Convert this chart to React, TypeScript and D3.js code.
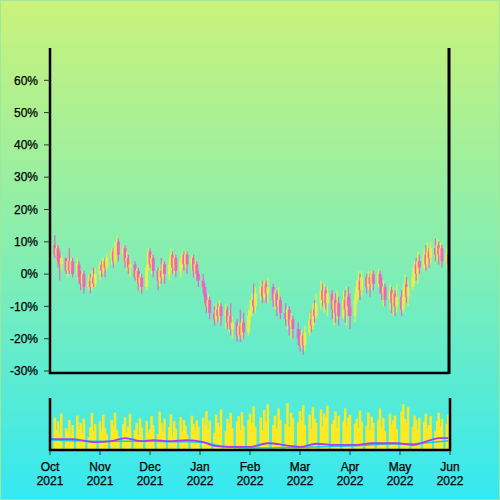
import React from "react";
import * as d3 from "d3";

// ---- Data (percent values), one tuple per trading day: [open, high, low, close]
const octOHLC = [
  [4, 9, 2, 7], [9, 12, 5, 6], [6, 9, 4, 8], [8, 9, 2, 4], [6, 7, -2, 3], [3, 6, 1, 5],
  [5, 5, 0, 1], [1, 5, -1, 4], [4, 8, 0, 1], [1, 5, 0, 4], [4, 5, -1, 0],
  [0, 5, -2, 3], [3, 4, -3, -1], [-1, 1, -5, -3], [-3, 1, -4, 0], [0, 1, -6, -4],
  [-4, 0, -5, -2], [-2, 0, -6, -4], [-4, 1, -5, -1], [-1, 2, -4, -3], [-3, 2, -4, 0],
];
const novOHLC = [
  [0, 4, -2, 3], [3, 4, -1, 1], [1, 5, 0, 4], [4, 5, -1, 2], [2, 6, 1, 5],
  [5, 8, 3, 7], [7, 8, 2, 4], [4, 10, 3, 8], [8, 12, 6, 10], [10, 11, 4, 6],
  [6, 9, 4, 8], [8, 9, 2, 4], [4, 7, 1, 5], [5, 6, 0, 2], [2, 5, -1, 3],
  [3, 4, -2, -1], [-1, 2, -3, 1], [1, 2, -5, -3], [-3, 0, -5, -1], [-1, 0, -6, -4],
  [-4, 3, -5, 2], [2, 8, 1, 7],
];
const decOHLC = [
  [7, 8, 2, 3], [3, 6, 0, 5], [5, 6, -1, 1],
  [1, 2, -5, -2], [-2, 2, -4, 1], [1, 5, -3, -1], [-1, 4, -2, 3], [3, 4, -3, 0],
  [0, 5, -2, 3], [3, 8, 1, 6], [6, 7, 0, 2], [2, 6, 0, 5], [5, 6, -1, 1],
  [1, 5, -1, 4], [4, 7, 2, 6], [6, 7, 1, 3], [3, 7, 2, 6], [6, 7, 0, 3],
  [3, 6, 1, 5], [5, 6, -1, 1], [1, 5, -1, 3], [3, 4, -2, 0], [0, 1, -4, -2],
];
const janOHLC = [
  [-2, 0, -6, -4], [-4, -3, -9, -7], [-7, -6, -12, -10], [-10, -6, -12, -8], [-8, -7, -14, -12],
  [-12, -10, -16, -14], [-14, -9, -15, -11], [-11, -9, -15, -13], [-13, -8, -15, -10], [-10, -9, -16, -13],
  [-13, -9, -17, -11], [-11, -10, -17, -15], [-15, -11, -18, -13], [-13, -9, -19, -17], [-17, -13, -20, -15],
  [-15, -14, -21, -19], [-19, -15, -20, -16], [-16, -11, -21, -19], [-19, -14, -20, -15], [-15, -12, -20, -18],
  [-18, -11, -19, -13],
];
const febOHLC = [
  [-13, -8, -16, -11], [-11, -6, -13, -8], [-8, -3, -12, -10], [-10, -4, -12, -6],
  [-6, -2, -8, -4], [-4, -2, -9, -7], [-7, -2, -8, -3], [-3, -2, -9, -6], [-6, -1, -9, -4],
  [-4, -3, -10, -8], [-8, -5, -11, -6], [-6, -5, -13, -10], [-10, -4, -12, -8], [-8, -7, -14, -12],
  [-12, -9, -16, -14], [-14, -10, -17, -11], [-11, -10, -19, -16], [-16, -12, -20, -14], [-14, -13, -20, -17],
  [-17, -15, -22, -20],
];
const marOHLC = [
  [-20, -17, -24, -22], [-22, -17, -23, -19], [-19, -18, -25, -22], [-22, -16, -24, -18],
  [-18, -12, -19, -14], [-14, -11, -18, -16], [-16, -9, -17, -11], [-11, -8, -15, -13], [-13, -6, -14, -9],
  [-9, -2, -11, -5], [-5, -3, -10, -8], [-8, -3, -12, -5], [-5, -4, -11, -9], [-9, -4, -13, -6],
  [-6, -5, -14, -11], [-11, -6, -16, -8], [-8, -6, -15, -12], [-12, -5, -14, -9], [-9, -7, -16, -13],
  [-13, -5, -14, -8], [-8, -5, -15, -11], [-11, -4, -16, -7], [-7, -4, -13, -10],
];
const aprOHLC = [
  [-10, -6, -17, -13],
  [-13, -6, -15, -8], [-8, -2, -9, -4], [-4, 1, -7, -2], [-2, 0, -8, -5], [-5, 1, -7, -1],
  [-1, 0, -6, -4], [-4, 1, -5, -1], [-1, 0, -7, -3], [-3, 1, -5, 0], [0, 1, -5, -3],
  [-3, 2, -4, 0], [0, 1, -6, -3], [-3, -1, -8, -6], [-6, -2, -10, -4], [-4, -3, -10, -8],
  [-8, -3, -11, -5], [-5, -4, -12, -9], [-9, -4, -13, -6], [-6, -5, -13, -10], [-10, -3, -12, -7],
];
const mayOHLC = [
  [-7, -5, -13, -11], [-11, -4, -12, -7], [-7, 0, -9, -3], [-3, -1, -9, -7], [-7, -2, -10, -4],
  [-4, 2, -5, -1], [-1, 4, -3, 3], [3, 5, -2, 0], [0, 7, -3, 4], [4, 6, 0, 2],
  [2, 8, 1, 6], [6, 9, 1, 3], [3, 10, 2, 7], [7, 8, 2, 5], [5, 10, 3, 8],
  [8, 11, 4, 6], [6, 11, 4, 9], [9, 10, 3, 6], [6, 10, 4, 8], [8, 9, 2, 4],
  [4, 8, 2, 6], [6, 7, 1, 3],
];

const octVol = [45, 62, 38, 55, 30, 70, 42, 35, 58, 28, 48, 66, 40, 52, 33, 60, 25, 44, 71, 37, 50];
const novVol = [55, 36, 68, 42, 30, 58, 47, 72, 39, 26, 50, 63, 34, 45, 70, 38, 52, 29, 61, 43, 56, 33];
const decVol = [40, 65, 48, 31, 74, 52, 36, 60, 44, 69, 28, 55, 41, 63, 35, 58, 47, 30, 66, 50, 38, 57, 45];
const janVol = [62, 48, 75, 40, 57, 33, 68, 52, 44, 78, 36, 60, 49, 71, 42, 55, 65, 38, 73, 46, 58];
const febVol = [70, 52, 84, 45, 63, 38, 77, 55, 88, 48, 66, 41, 80, 58, 50, 90, 44, 72, 61, 53];
const marVol = [75, 56, 86, 48, 68, 40, 82, 60, 52, 78, 45, 70, 63, 85, 50, 58, 74, 42, 66, 55, 80, 47, 62];
const aprVol = [68, 50, 60, 42, 76, 55, 47, 72, 38, 64, 52, 58, 80, 44, 62, 36, 70, 49, 57, 66, 40];
const mayVol = [74, 88, 60, 52, 82, 45, 66, 58, 38, 62, 54, 70, 42, 48, 65, 36, 56, 72, 44, 60, 50, 68];

// Moving-average style lines in the volume panel (sampled points)
const maDates = [
  "2021-10-01", "2021-10-15", "2021-10-29", "2021-11-08", "2021-11-16", "2021-11-26",
  "2021-12-03", "2021-12-13", "2021-12-24", "2022-01-03", "2022-01-10", "2022-01-19",
  "2022-02-01", "2022-02-11", "2022-02-23", "2022-03-01", "2022-03-11", "2022-03-23",
  "2022-04-05", "2022-04-14", "2022-04-29", "2022-05-09", "2022-05-18", "2022-05-25", "2022-05-31",
];
const maPurple = [21, 21, 15, 17, 23, 17, 19, 17, 19, 15, 8, 6, 6, 13, 8, 6, 12, 10, 10, 13, 13, 10, 17, 23, 23];
const maCyan = [19, 18, 17, 17, 17, 17, 17, 16, 16, 15, 10, 6, 4, 4, 5, 5, 6, 7, 8, 10, 12, 12, 14, 16, 18];

const monthTicks = ["2021-10-01", "2021-11-01", "2021-12-01", "2022-01-01", "2022-02-01", "2022-03-01", "2022-04-01", "2022-05-01", "2022-06-01"];
const monthLabels = ["Oct", "Nov", "Dec", "Jan", "Feb", "Mar", "Apr", "May", "Jun"];
const yearLabels = ["2021", "2021", "2021", "2022", "2022", "2022", "2022", "2022", "2022"];
const yTicks = [-30, -20, -10, 0, 10, 20, 30, 40, 50, 60];

const parse = d3.timeParse("%Y-%m-%d");

export default function App() {
  const ohlc = [...octOHLC, ...novOHLC, ...decOHLC, ...janOHLC, ...febOHLC, ...marOHLC, ...aprOHLC, ...mayOHLC];
  const vols = [...octVol, ...novVol, ...decVol, ...janVol, ...febVol, ...marVol, ...aprVol, ...mayVol];
  const days = d3
    .timeDay.range(parse("2021-10-01")!, parse("2022-06-01")!)
    .filter((d) => d.getDay() !== 0 && d.getDay() !== 6);

  const tickDates = monthTicks.map((s) => parse(s)!);
  const x = d3
    .scaleTime()
    .domain(tickDates)
    .range(tickDates.map((_, i) => 50 + i * 50));
  const y = d3.scaleLinear().domain([-30, 70]).range([371, 48]);
  const yv = d3.scaleLinear().domain([0, 100]).range([450, 398]);

  const maLine = (vals: number[]) =>
    d3
      .line<number>()
      .x((_, i) => x(parse(maDates[i])!))
      .y((v) => yv(v))
      .curve(d3.curveMonotoneX)(vals) || "";

  const font = "'Liberation Sans', Arial, Helvetica, sans-serif";
  const up = "#eef23e";
  const down = "#f05cc6";

  return (
    <svg
      width={500}
      height={500}
      style={{ position: "absolute", left: 0, top: 0, display: "block" }}
      fontFamily={font}
    >
      <defs>
        <linearGradient id="bg" x1="0" y1="0" x2="0" y2="1">
          <stop offset="0%" stopColor="#cbf27a" />
          <stop offset="50%" stopColor="#86eeb0" />
          <stop offset="100%" stopColor="#34e8f2" />
        </linearGradient>
        <clipPath id="volclip">
          <rect x={50} y={396} width={400} height={54} />
        </clipPath>
      </defs>
      <rect x={0} y={0} width={500} height={500} fill="url(#bg)" />
      <rect x={0.5} y={0.5} width={499} height={499} fill="none" stroke="#9ee89a" strokeWidth={1} />

      {/* candles */}
      <g>
        {ohlc.map((d, i) => {
          const [o, h, l, c] = d;
          const cx = x(days[i]);
          const col = c >= o ? up : down;
          const top = y(Math.max(o, c));
          const bot = y(Math.min(o, c));
          return (
            <g key={i} opacity={0.92}>
              <line x1={cx} x2={cx} y1={y(h)} y2={y(l)} stroke={col} strokeWidth={1.2} />
              <rect x={cx - 1.5} y={top} width={3} height={Math.max(1, bot - top)} fill={col} />
            </g>
          );
        })}
      </g>

      {/* main axes */}
      <path d="M50,48V373H449" fill="none" stroke="#000" strokeWidth={2.5} />
      <line x1={449} x2={449} y1={48} y2={374} stroke="#000" strokeWidth={3} />
      {yTicks.map((t) => (
        <g key={t}>
          <line x1={44} x2={50} y1={y(t)} y2={y(t)} stroke="#333" strokeWidth={1} />
          <text x={38} y={y(t)} dy="0.35em" textAnchor="end" fontSize={12} fill="#000" stroke="#000" strokeWidth={0.25}>
            {t}%
          </text>
        </g>
      ))}

      {/* volume */}
      <g clipPath="url(#volclip)">
        {vols.map((v, i) => {
          const cx = x(days[i]);
          return <rect key={i} x={cx - 1.25} y={yv(v)} width={2.5} height={450 - yv(v)} fill="#fde923" />;
        })}
        <path d={maLine(maCyan)} fill="none" stroke="#22c4ea" strokeWidth={1.5} />
        <path d={maLine(maPurple)} fill="none" stroke="#a43ef2" strokeWidth={1.8} />
      </g>
      <path d="M50,398V450H450V398" fill="none" stroke="#000" strokeWidth={2.5} />
      {tickDates.map((d, i) => (
        <g key={i} transform={`translate(${x(d)},0)`}>
          <line y1={451} y2={455} stroke="#333" strokeWidth={1} />
          <text y={471} textAnchor="middle" fontSize={12} fill="#000" stroke="#000" strokeWidth={0.25}>
            {monthLabels[i]}
          </text>
          <text y={485} textAnchor="middle" fontSize={12} fill="#000" stroke="#000" strokeWidth={0.25}>
            {yearLabels[i]}
          </text>
        </g>
      ))}
    </svg>
  );
}
